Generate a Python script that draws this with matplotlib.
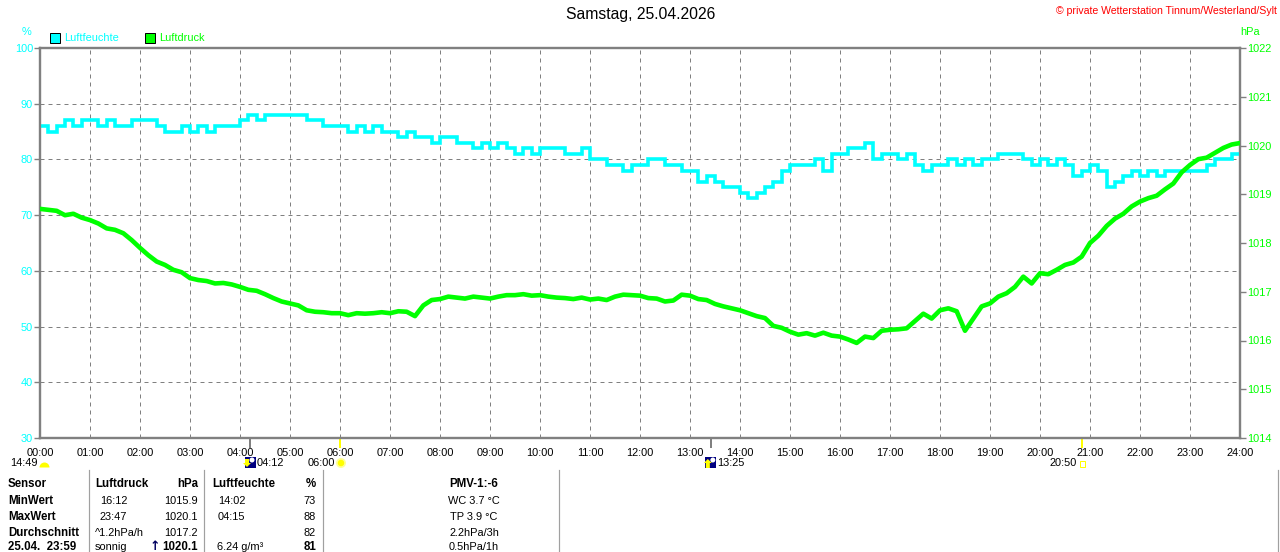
import matplotlib
matplotlib.use('Agg')
import matplotlib.pyplot as plt
import matplotlib.transforms as mtrans
from matplotlib.patches import Rectangle, Ellipse, Polygon, Wedge
import numpy as np

# ---------------- data ----------------
title = "Samstag, 25.04.2026"
copyright_text = "\u00a9 private Wetterstation Tinnum/Westerland/Sylt"

# 10-minute samples 00:00 .. 24:00
humidity = [
    86, 85, 86, 87, 86, 87,
    87, 86, 87, 86, 86, 87,
    87, 87, 86, 85, 85, 86,
    85, 86, 85, 86, 86, 86,
    87, 88, 87, 88, 88, 88,
    88, 88, 87, 87, 86, 86,
    86, 85, 86, 85, 86, 85,
    85, 84, 85, 84, 84, 83,
    84, 84, 83, 83, 82, 83,
    82, 83, 82, 81, 82, 81,
    82, 82, 82, 81, 81, 82,
    80, 80, 79, 79, 78, 79,
    79, 80, 80, 79, 79, 78,
    78, 76, 77, 76, 75, 75,
    74, 73, 74, 75, 76, 78,
    79, 79, 79, 80, 78, 81,
    81, 82, 82, 83, 80, 81,
    81, 80, 81, 79, 78, 79,
    79, 80, 79, 80, 79, 80,
    80, 81, 81, 81, 80, 79,
    80, 79, 80, 79, 77, 78,
    79, 78, 75, 76, 77, 78,
    77, 78, 77, 78, 78, 78,
    78, 78, 79, 80, 80, 81,
    81,
]
pressure = [
    1018.70, 1018.68, 1018.66, 1018.57, 1018.60, 1018.52,
    1018.47, 1018.40, 1018.30, 1018.27, 1018.20, 1018.06,
    1017.90, 1017.75, 1017.62, 1017.55, 1017.45, 1017.40,
    1017.28, 1017.24, 1017.22, 1017.17, 1017.18, 1017.15,
    1017.10, 1017.04, 1017.02, 1016.95, 1016.87, 1016.80,
    1016.76, 1016.72, 1016.62, 1016.59, 1016.58, 1016.56,
    1016.56, 1016.52, 1016.56, 1016.55, 1016.56, 1016.58,
    1016.56, 1016.60, 1016.59, 1016.50, 1016.72, 1016.83,
    1016.85, 1016.90, 1016.88, 1016.86, 1016.90, 1016.88,
    1016.86, 1016.90, 1016.93, 1016.93, 1016.95, 1016.92,
    1016.93, 1016.90, 1016.88, 1016.87, 1016.85, 1016.88,
    1016.84, 1016.86, 1016.83, 1016.90, 1016.94, 1016.93,
    1016.92, 1016.87, 1016.86, 1016.80, 1016.82, 1016.94,
    1016.92, 1016.85, 1016.83, 1016.75, 1016.70, 1016.66,
    1016.62, 1016.56, 1016.50, 1016.46, 1016.30, 1016.26,
    1016.18, 1016.12, 1016.15, 1016.10, 1016.16, 1016.10,
    1016.08, 1016.02, 1015.95, 1016.08, 1016.05, 1016.20,
    1016.22, 1016.23, 1016.25, 1016.40, 1016.55, 1016.45,
    1016.62, 1016.66, 1016.60, 1016.20, 1016.45, 1016.70,
    1016.76, 1016.90, 1016.97, 1017.10, 1017.31, 1017.17,
    1017.38, 1017.36, 1017.45, 1017.55, 1017.60, 1017.72,
    1018.00, 1018.15, 1018.35, 1018.50, 1018.60, 1018.75,
    1018.85, 1018.92, 1018.97, 1019.10, 1019.22, 1019.45,
    1019.60, 1019.72, 1019.75, 1019.85, 1019.95, 1020.02,
    1020.05,
]
sample_minutes = 10
times = np.arange(len(humidity)) * sample_minutes / 60.0

hour_labels = ["%02d:00" % h for h in range(25)]
hum_ticks = [30, 40, 50, 60, 70, 80, 90, 100]
pres_ticks = [1014, 1015, 1016, 1017, 1018, 1019, 1020, 1021, 1022]

moon_events = [("04:12", "set"), ("13:25", "rise")]
sun_events = [("06:00", "rise"), ("20:50", "set")]
sunshine_duration = "14:49"

table_header = ["Sensor", "Luftdruck", "hPa", "Luftfeuchte", "%", "PMV-1:-6"]
row_names = ["MinWert", "MaxWert", "Durchschnitt", "25.04.  23:59"]
pres_time = ["16:12", "23:47", "^1.2hPa/h", "sonnig"]
pres_val = ["1015.9", "1020.1", "1017.2", "1020.1"]
hum_time = ["14:02", "04:15", "", "6.24 g/m\u00b3"]
hum_val = ["73", "88", "82", "81"]
extra_col = ["WC 3.7 \u00b0C", "TP 3.9 \u00b0C", "2.2hPa/3h", "0.5hPa/1h"]

# ---------------- style ----------------
CYAN = '#00FFFF'
GREEN = '#00FF00'
GREY = '#808080'
FONT = ['Liberation Sans', 'DejaVu Sans']
plt.rcParams['font.family'] = FONT
FS = 7.9
FSB = 8.3
PX = 0.72  # 1 pixel in points at dpi=100


def hm(s):
    h, m = s.split(':')
    return int(h) + int(m) / 60.0


W, H = 1280, 552
fig = plt.figure(figsize=(W / 100, H / 100), dpi=100)

# overlay in pixel coordinates for annotations
ov = fig.add_axes([0, 0, 1, 1], zorder=-1)
ov.set_xlim(0, W)
ov.set_ylim(H, 0)
ov.axis('off')

L, R, T, B = 40, 1240, 48, 438
ax = fig.add_axes([L / W, 1 - B / H, (R - L) / W, (B - T) / H])
ax.set_xlim(0, 24)
ax.set_ylim(30, 100)
ax.set_xticks(range(25))
ax.set_xticklabels(hour_labels)
ax.set_yticks(hum_ticks)
ax.set_yticklabels([str(v) for v in hum_ticks])
ax.tick_params(axis='x', length=0, pad=7, labelsize=FS, colors='black')
ax.tick_params(axis='y', length=4, width=1, color=GREY, labelcolor=CYAN,
               labelsize=FS, pad=1)
ax.grid(True, color=GREY, linestyle=(0, (4, 4)), linewidth=PX)
ax.set_axisbelow(True)
for sp in ax.spines.values():
    sp.set_color(GREY)
    sp.set_linewidth(2.2 * PX)

ax.plot(times, humidity, color=CYAN, linewidth=3.6 * PX,
        drawstyle='steps-post', solid_joinstyle='miter', zorder=3)

ax2 = ax.twinx()
ax2.set_ylim(1014, 1022)
ax2.set_yticks(pres_ticks)
ax2.set_yticklabels([str(v) for v in pres_ticks])
ax2.tick_params(axis='y', length=4, width=1, color=GREY, labelcolor=GREEN,
                labelsize=FS, pad=1)
for sp in ax2.spines.values():
    sp.set_color(GREY)
    sp.set_linewidth(2.2 * PX)
ax2.plot(times, pressure, color=GREEN, linewidth=4.6 * PX, zorder=4)

# ---------------- header texts ----------------
ov.text(641, 15, title, ha='center', va='center', fontsize=11.3, color='black')
ov.text(1277, 11, copyright_text, ha='right', va='center', fontsize=7.6,
        color='#FF0000')
ov.text(27, 32, "%", ha='center', va='center', fontsize=FS, color=CYAN)
ov.text(1250, 32, "hPa", ha='center', va='center', fontsize=FS, color=GREEN)
ov.add_patch(Rectangle((50, 33), 10, 10, facecolor=CYAN, edgecolor='black',
                       linewidth=PX))
ov.text(64, 38, "Luftfeuchte", ha='left', va='center', fontsize=FS, color=CYAN)
ov.add_patch(Rectangle((145, 33), 10, 10, facecolor=GREEN, edgecolor='black',
                       linewidth=PX))
ov.text(159, 38, "Luftdruck", ha='left', va='center', fontsize=FS, color=GREEN)

# ---------------- events below axis ----------------
blend = mtrans.blended_transform_factory(ax.transData, ov.transData)
hw = 0.1  # half icon width in hours (5 px)
for t, kind in moon_events:
    h = hm(t)
    ov.plot([h, h], [433, 447], color=GREY, linewidth=2 * PX, transform=blend,
            clip_on=False)
    ov.add_patch(Rectangle((h - hw - 0.01, 457), 0.22, 11, facecolor='#000080',
                           edgecolor='none', transform=blend))
    ov.add_patch(Ellipse((h + 0.04, 460), 0.1, 5, facecolor='white',
                         edgecolor='none', transform=blend))
    if kind == 'set':
        arr = [(h - 0.1, 459), (h - 0.02, 459), (h - 0.02, 463), (h + 0.02, 463),
               (h - 0.06, 467), (h - 0.14, 463), (h - 0.1, 463)]
    else:
        arr = [(h - 0.1, 468), (h - 0.02, 468), (h - 0.02, 463), (h + 0.02, 463),
               (h - 0.06, 459), (h - 0.14, 463), (h - 0.1, 463)]
    ov.add_patch(Polygon(arr, closed=True, facecolor='#FFFF00', edgecolor='none',
                         transform=blend))
    ov.text(h + 0.13, 463, t, ha='left', va='center', fontsize=FS,
            color='black', transform=blend)

for t, kind in sun_events:
    h = hm(t)
    ov.plot([h, h], [433, 447], color='#FFFF00', linewidth=2 * PX,
            transform=blend, clip_on=False)
    if kind == 'rise':
        ov.add_patch(Ellipse((h + 0.02, 463), 0.2, 10, facecolor='#FFFF99',
                             edgecolor='none', transform=blend))
        ov.add_patch(Ellipse((h + 0.02, 463), 0.13, 6.5, facecolor='#FFFF00',
                             edgecolor='none', transform=blend))
    else:
        ov.add_patch(Rectangle((h - 0.03, 461), 0.1, 6, facecolor='white',
                               edgecolor='#FFFF00', linewidth=PX,
                               transform=blend))
    ov.text(h - 0.1, 463, t, ha='right', va='center', fontsize=FS,
            color='black', transform=blend)

ov.text(10, 463, sunshine_duration, ha='left', va='center', fontsize=FS,
        color='black')
ov.add_patch(Wedge((44.5, 467.5), 5, 180, 360, facecolor='#FFFF00',
                   edgecolor='none'))

# ---------------- table ----------------
for x in [88.7, 204.3, 323.3, 559.3, 1278]:
    ov.plot([x, x], [470, 552], color='#A0A0A0', linewidth=1.2 * PX)

row_y = [484.3, 500.5, 516.5, 532.5, 547.5]
ov.text(8, row_y[0], table_header[0], ha='left', va='center', fontsize=FSB,
        fontweight='bold')
ov.text(95, row_y[0], table_header[1], ha='left', va='center', fontsize=FSB,
        fontweight='bold')
ov.text(198, row_y[0], table_header[2], ha='right', va='center', fontsize=FSB,
        fontweight='bold')
ov.text(212.7, row_y[0], table_header[3], ha='left', va='center', fontsize=FSB,
        fontweight='bold')
ov.text(316, row_y[0], table_header[4], ha='right', va='center', fontsize=FSB,
        fontweight='bold')
ov.text(474, row_y[0], table_header[5], ha='center', va='center', fontsize=FSB,
        fontweight='bold')

for i in range(4):
    y = row_y[i + 1]
    last = (i == 3)
    ov.text(8, y, row_names[i], ha='left', va='center', fontsize=FSB,
            fontweight='bold')
    xt = 100 if i < 2 else 95
    ov.text(xt, y, pres_time[i], ha='left', va='center', fontsize=FS)
    if last:
        ov.text(198, y, pres_val[i], ha='right', va='center', fontsize=FSB,
                fontweight='bold')
        ov.text(155, y - 1, "\u2191", ha='center', va='center', fontsize=9,
                fontweight='bold', color='#000060',
                family=['DejaVu Sans'])
    else:
        ov.text(198, y, pres_val[i], ha='right', va='center', fontsize=FS)
    ov.text(218 if i < 3 else 216.7, y, hum_time[i], ha='left', va='center',
            fontsize=FS)
    ov.text(316, y, hum_val[i], ha='right', va='center', fontsize=FSB if last else FS,
            fontweight='bold' if last else 'normal')
    ov.text(474, y, extra_col[i], ha='center', va='center', fontsize=FS)

fig.savefig('out.png', dpi=100)
